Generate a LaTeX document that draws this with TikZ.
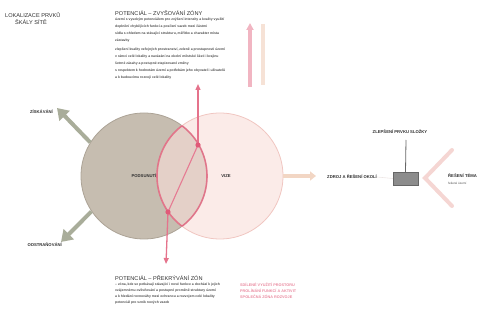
\documentclass[tikz,border=0pt]{standalone}
\usepackage{fontspec}
\setmainfont{Liberation Sans}
\usetikzlibrary{arrows.meta,positioning,calc}

\definecolor{sage}{HTML}{A9AD9A}
\definecolor{taupe}{HTML}{C6BDB0}
\definecolor{taupeline}{HTML}{ACA396}
\definecolor{blush}{HTML}{F9DDD9}
\definecolor{blushline}{HTML}{F0C6C1}
\definecolor{zonered}{HTML}{E05A78}
\definecolor{peach}{HTML}{F2D6C4}
\definecolor{palepink}{HTML}{F5D6D3}
\definecolor{inkgray}{HTML}{2E2E2E}

\begin{document}
\begin{tikzpicture}[x=1pt, y=-1pt,
    zone/.style={circle, minimum size=126pt, inner sep=0pt},
    caption/.style={font=\fontsize{4.2}{5}\selectfont\bfseries, text=inkgray, inner sep=0pt},
    heading/.style={font=\fontsize{5.6}{7}\selectfont, text=inkgray, inner sep=0pt, anchor=north west, align=left},
    note/.style={font=\fontsize{3.4}{7}\selectfont\bfseries, text=inkgray!85, inner sep=0pt, anchor=north west, align=left},
    branch/.style={-{Triangle[length=11pt,width=14pt]}, line width=4pt, draw=sage},
    redarr/.style={-{Triangle[length=6pt,width=5pt]}, line width=1.3pt, draw=zonered!85}
]
\useasboundingbox (0,0) rectangle (495,328);

\node[heading] (lok) at (5,12) {LOKALIZACE PRVKŮ\\\hspace*{10pt}ŠKÁLY SÍTĚ};

\node[zone, fill=taupe, draw=taupeline, line width=0.8pt] (pod) at (144,176) {};
\node[zone, fill=blush, fill opacity=0.6, draw=blushline, line width=0.8pt] (viz) at (220,176) {};
\node[caption] at (pod) {PODSUNUTÍ};
\node[caption] at ($(viz)+(6,0)$) {VIZE};

\begin{scope}
  \clip (144,176) circle (63pt);
  \draw[zonered, line width=1.6pt, opacity=0.75] (220,176) circle (63pt);
\end{scope}
\begin{scope}
  \clip (220,176) circle (63pt);
  \draw[zonered, line width=1.6pt, opacity=0.75] (144,176) circle (63pt);
\end{scope}

\coordinate (zisk) at (57,108);
\coordinate (odst) at (61,242);
\draw[branch] (pod.148) -- (zisk);
\draw[branch] (pod.214) -- (odst);
\node[caption, anchor=east] (ziskl) at (53,112) {ZÍSKÁVÁNÍ};
\node[caption, anchor=east] (odstl) at (62,245) {ODSTRAŇOVÁNÍ};

\coordinate (dtop) at (198,145);
\coordinate (dbot) at (168,212);
\coordinate (uptip) at (198,84);
\coordinate (downtip) at (166,264);
\draw[zonered!80, line width=1.1pt] (dtop) -- (dbot);
\draw[redarr] (dtop) -- (uptip);
\draw[redarr] (dbot) -- (downtip);
\fill[zonered] (dtop) circle (2.6pt) (dbot) circle (2.6pt);

\node[heading] (toptitle) at (115,10) {POTENCIÁL – ZVYŠOVÁNÍ ZÓNY};
\node[note] (topnote1) at (115,18) {území s vysokým potenciálem pro zvýšení intenzity a kvality využití\\
doplnění chybějících funkcí a posílení vazeb mezi částmi\\
sídla s ohledem na stávající strukturu, měřítko a charakter místa\\
zástavby};
\node[note] (topnote2) at (115,48) {zlepšení kvality veřejných prostranství, zeleně a prostupnosti území\\
v rámci celé lokality a navázání na okolní městské části i krajinu\\
šetrné zásahy a postupné etapizované změny\\
s respektem k hodnotám území a potřebám jeho obyvatel i uživatelů\\
a k budoucímu rozvoji celé lokality};

\coordinate (pbot) at (250,87);
\coordinate (ptop) at (250,23);
\draw[-{Triangle[length=7pt,width=7pt]}, line width=3.5pt, draw=zonered!45] (pbot) -- (ptop);
\draw[line width=4pt, draw=peach!70] (263,24) -- (263,85);

\coordinate (vtip) at (316,176);
\draw[-{Triangle[length=6pt,width=9pt]}, line width=4.5pt, draw=peach] (viz.east) -- (vtip);
\node[caption, anchor=west] (zdroj) at (327,177) {ZDROJ A ŘEŠENÍ OKOLÍ};
\node[draw=black!60, fill=black!45, minimum width=25pt, minimum height=13pt, inner sep=0pt] (prvek) at (405.5,178.5) {};
\draw[palepink!80!black!30, line width=0.6pt] (zdroj.east) -- (prvek.west);
\node[caption] (zlep) at (400,132) {ZLEPŠENÍ PRVKU SLOŽKY};
\coordinate (zlepbot) at (406,140);
\draw[black!60, line width=0.8pt] (zlepbot) -- (prvek.north);

\coordinate (vfork) at (425,178);
\coordinate (vup) at (452,150);
\coordinate (vdown) at (452,206);
\draw[palepink, line width=4pt, line cap=round] (vup) -- (vfork) -- (vdown);
\node[caption, anchor=west] (tema) at (448,176) {ŘEŠENÍ TÉMA};
\node[note, font=\fontsize{3}{4}\selectfont] (temanote) at (448,182) {řešené území};

\node[heading] (bottitle) at (115,275) {POTENCIÁL – PŘEKRÝVÁNÍ ZÓN};
\node[note, font=\fontsize{3.4}{5.8}\selectfont\bfseries] (botnote1) at (115,283) {– zóna, kde se potkávají stávající i nové funkce a dochází k jejich\\
vzájemnému ovlivňování a postupné proměně struktury území\\
a k hledání rovnováhy mezi ochranou a rozvojem celé lokality};
\node[note] (botnote2) at (115,301) {potenciál pro vznik nových vazeb};
\node[note, text=zonered!70, font=\fontsize{3.8}{6}\selectfont\bfseries] (pinknote) at (240,283) {SDÍLENÉ VYUŽITÍ PROSTORU\\PROLÍNÁNÍ FUNKCÍ A AKTIVIT\\SPOLEČNÁ ZÓNA ROZVOJE};
\end{tikzpicture}
\end{document}
